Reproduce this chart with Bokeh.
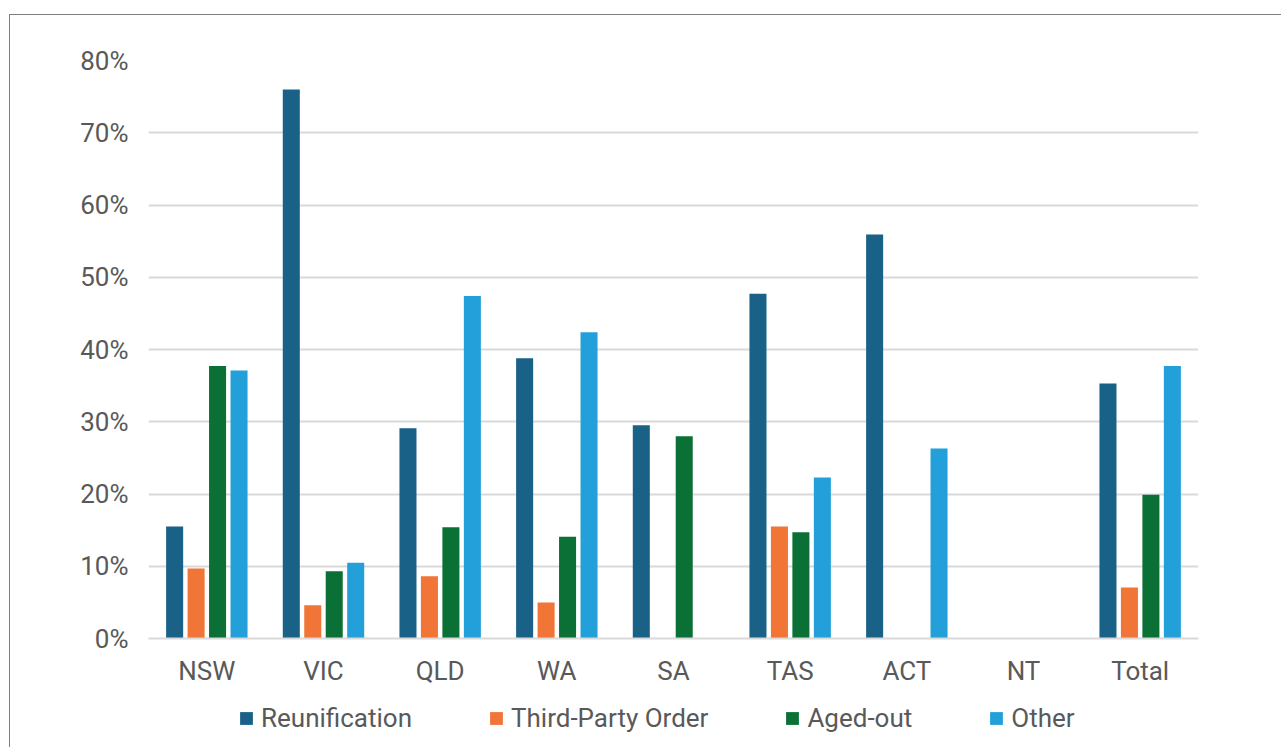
from bokeh.plotting import figure
from bokeh.models import (ColumnDataSource, FactorRange, Legend, LegendItem,
                          NumeralTickFormatter, FixedTicker, Range1d)
from bokeh.layouts import column
from bokeh.transform import dodge
from bokeh.embed import file_html
from bokeh.resources import INLINE

categories = ["NSW", "VIC", "QLD", "WA", "SA", "TAS", "ACT", "NT", "Total"]
reunification = [15.5, 76.0, 29.1, 38.8, 29.5, 47.7, 55.9, 0, 35.3]
third_party = [9.7, 4.6, 8.6, 5.0, 0, 15.5, 0, 0, 7.05]
aged_out = [37.7, 9.3, 15.4, 14.1, 28.0, 14.7, 0, 0, 19.9]
other = [37.1, 10.5, 47.4, 42.4, 0, 22.3, 26.3, 0, 37.7]
y_ticks = [0, 10, 20, 30, 40, 50, 60, 70, 80]

series = [("Reunification", "reunification", "#1A6187"),
          ("Third-Party Order", "third_party", "#F07536"),
          ("Aged-out", "aged_out", "#0A7035"),
          ("Other", "other", "#23A0DA")]

source = ColumnDataSource(dict(cat=categories, reunification=[v / 100 for v in reunification],
                               third_party=[v / 100 for v in third_party],
                               aged_out=[v / 100 for v in aged_out],
                               other=[v / 100 for v in other]))

FONT = "Roboto"
TXT = "#595959"
GRID = "#D9D9D9"

p = figure(x_range=FactorRange(*categories, range_padding=0),
           y_range=(0, 0.8), width=1271, height=675,
           output_backend="svg", toolbar_location=None,
           min_border_left=138, min_border_right=83,
           min_border_top=45, min_border_bottom=52)
p.outline_line_color = None

offsets = [-0.276, -0.092, 0.092, 0.276]
for (label, col, color), off in zip(series, offsets):
    p.vbar(x=dodge("cat", off, range=p.x_range), top=col, width=0.146,
           source=source, fill_color=color, line_color=None)

# axes
p.yaxis.ticker = FixedTicker(ticks=[t / 100 for t in y_ticks])
p.yaxis.formatter = NumeralTickFormatter(format="0%")
p.yaxis.axis_line_color = None
p.yaxis.major_tick_line_color = None
p.yaxis.minor_tick_line_color = None
p.yaxis.major_label_standoff = 14
p.xaxis.axis_line_color = GRID
p.xaxis.axis_line_width = 2
p.xaxis.major_tick_line_color = None
p.xaxis.minor_tick_line_color = None
p.xaxis.major_label_standoff = 11
for ax in (p.xaxis, p.yaxis):
    ax.major_label_text_font = FONT
    ax.major_label_text_font_size = "26px"
    ax.major_label_text_color = TXT

p.xgrid.grid_line_color = None
p.ygrid.grid_line_color = GRID
p.ygrid.grid_line_width = 2

# legend strip below the chart (its frame is aligned with the chart's frame)
q = figure(width=1271, height=57, output_backend="svg", toolbar_location=None,
           x_range=Range1d(0, 1), y_range=Range1d(0, 1),
           min_border_left=0, min_border_right=0, min_border_top=0, min_border_bottom=0)
q.axis.visible = False
q.grid.visible = False
q.outline_line_color = None
items = []
for label, col, color in series:
    # legend proxy, placed outside the visible range
    r = q.vbar(x=[-5], top=[0], width=0.1, fill_color=color, line_color=None)
    items.append(LegendItem(label=label, renderers=[r]))

legend = Legend(items=items, orientation="horizontal", location=(90, 14),
                label_text_font=FONT, label_text_font_size="26px",
                label_text_color=TXT, glyph_width=16, glyph_height=16,
                label_standoff=7, spacing=76, padding=0, margin=0,
                border_line_color=None, background_fill_alpha=0)
q.add_layout(legend, "center")

layout = column(p, q, spacing=0)
layout.margin = (14, 0, 0, 9)
layout.styles = {"border-top": "1px solid #7F7F7F", "border-left": "1px solid #7F7F7F"}

open("out.html", "w").write(file_html(layout, INLINE))
